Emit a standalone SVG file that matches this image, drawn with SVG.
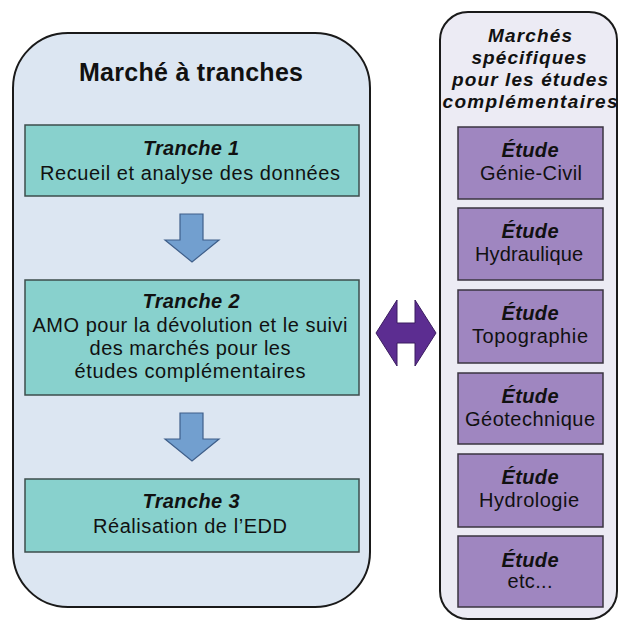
<svg xmlns="http://www.w3.org/2000/svg" width="619" height="622" viewBox="0 0 619 622">
<style>
text{font-family:"Liberation Sans",Arial,sans-serif;fill:#111;text-anchor:middle}
.t{font-size:20px}
.h{font-size:19px}
.b{font-weight:bold;font-style:italic}
.title{font-size:25px;font-weight:bold}
.tr{fill:#88d1cd;stroke:#3d4d4c;stroke-width:1.5}
.et{fill:#9f86c0;stroke:#3a3440;stroke-width:1.5}
.arr{fill:#729fcf;stroke:#3f5f8a;stroke-width:1.2}
</style>
<rect width="619" height="622" fill="#ffffff"/>
<g id="container-left">
<rect x="13" y="33" width="357" height="574" rx="55" ry="55" fill="#dce6f2" stroke="#1a1a1a" stroke-width="2"/>
<text class="title" x="191" y="81" textLength="224" lengthAdjust="spacing">Marché à tranches</text>
</g>
<g id="container-right">
<rect x="440" y="12" width="177" height="607" rx="28" ry="28" fill="#ecebf4" stroke="#1a1a1a" stroke-width="2"/>
<text class="h b" x="530" y="42" textLength="84" lengthAdjust="spacing">Marchés</text>
<text class="h b" x="529" y="64" textLength="115" lengthAdjust="spacing">spécifiques</text>
<text class="h b" x="530" y="86" textLength="156" lengthAdjust="spacing">pour les études</text>
<text class="h b" x="530" y="108" textLength="175" lengthAdjust="spacing">complémentaires</text>
</g>
<g id="tranche1">
<rect class="tr" x="25" y="125" width="334" height="71"/>
<text class="t b" x="191" y="155" textLength="96" lengthAdjust="spacing">Tranche 1</text>
<text class="t" x="190" y="180" textLength="300" lengthAdjust="spacing">Recueil et analyse des données</text>
</g>
<g id="tranche2">
<rect class="tr" x="25" y="280" width="334" height="115"/>
<text class="t b" x="191" y="308" textLength="97" lengthAdjust="spacing">Tranche 2</text>
<text class="t" x="190" y="332" textLength="315" lengthAdjust="spacing">AMO pour la dévolution et le suivi</text>
<text class="t" x="190" y="355" textLength="201" lengthAdjust="spacing">des marchés pour les</text>
<text class="t" x="190" y="378" textLength="231" lengthAdjust="spacing">études complémentaires</text>
</g>
<g id="tranche3">
<rect class="tr" x="25" y="479" width="334" height="73"/>
<text class="t b" x="191" y="508" textLength="97" lengthAdjust="spacing">Tranche 3</text>
<text class="t" x="190" y="533" textLength="194" lengthAdjust="spacing">Réalisation de l’EDD</text>
</g>
<g id="etude1">
<rect class="et" x="458" y="127" width="145" height="72"/>
<text class="t b" x="530" y="157" textLength="57" lengthAdjust="spacing">Étude</text>
<text class="t" x="531" y="180" textLength="102" lengthAdjust="spacing">Génie-Civil</text>
</g>
<g id="etude2">
<rect class="et" x="458" y="208" width="145" height="72"/>
<text class="t b" x="530" y="238" textLength="57" lengthAdjust="spacing">Étude</text>
<text class="t" x="529" y="261" textLength="108" lengthAdjust="spacing">Hydraulique</text>
</g>
<g id="etude3">
<rect class="et" x="458" y="290" width="145" height="73"/>
<text class="t b" x="530" y="320" textLength="57" lengthAdjust="spacing">Étude</text>
<text class="t" x="530" y="343" textLength="116" lengthAdjust="spacing">Topographie</text>
</g>
<g id="etude4">
<rect class="et" x="458" y="373" width="145" height="71"/>
<text class="t b" x="530" y="403" textLength="57" lengthAdjust="spacing">Étude</text>
<text class="t" x="530" y="426" textLength="130" lengthAdjust="spacing">Géotechnique</text>
</g>
<g id="etude5">
<rect class="et" x="458" y="454" width="145" height="73"/>
<text class="t b" x="530" y="484" textLength="57" lengthAdjust="spacing">Étude</text>
<text class="t" x="529" y="507" textLength="100" lengthAdjust="spacing">Hydrologie</text>
</g>
<g id="etude6">
<rect class="et" x="458" y="536" width="145" height="71"/>
<text class="t b" x="530" y="567" textLength="57" lengthAdjust="spacing">Étude</text>
<text class="t" x="530" y="588" textLength="45" lengthAdjust="spacing">etc...</text>
</g>
<g id="connectors">
<polygon class="arr" points="180,214 203,214 203,240 219,240 192,262 165,240 180,240"/>
<polygon class="arr" points="180,413 203,413 203,439 219,439 192,461 165,439 180,439"/>
<polygon points="376,333 397,300 397,323 415,323 415,300 436,333 415,366 415,343 397,343 397,366" fill="#5c2d91" stroke="#3b1d60" stroke-width="1"/>
</g>
</svg>
